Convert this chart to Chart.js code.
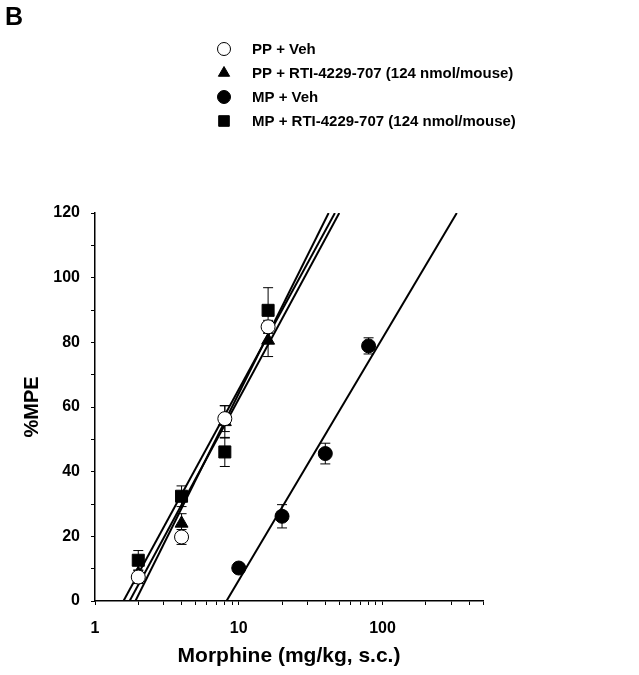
<!DOCTYPE html>
<html>
<head>
<meta charset="utf-8">
<script src="https://cdn.jsdelivr.net/npm/chart.js@4.4.1/dist/chart.umd.min.js"></script>
<style>
  body { margin: 0; background: #fff; }
  canvas { display: block; background: #fff; }
</style>
</head>
<body>
<canvas id="doseChart" width="639" height="675"></canvas>
<script>
// doses (mg/kg, s.c.)
const ppDoses = [2, 4, 8, 16];
const mpDoses = [10, 20, 40, 80];

// %MPE means and SEM
const ppVeh = [7.4, 19.8, 56.4, 84.8];
const ppVehErr = [2, 2.3, 4, 2];
const ppRti = [8.5, 24, 55.4, 80.6];
const ppRtiErr = [2.5, 3, 5, 5];
const mpVeh = [10.2, 26.2, 45.6, 78.9];
const mpVehErr = [1, 3.6, 3.2, 2.5];
const mpRti = [12.6, 32.4, 46.1, 89.9];
const mpRtiErr = [3, 3.2, 4.5, 7];

const seriesLabels = [
    'PP + Veh',
    'PP + RTI-4229-707 (124 nmol/mouse)',
    'MP + Veh',
    'MP + RTI-4229-707 (124 nmol/mouse)'
];

const xTicks = [1, 2, 3, 4, 5, 6, 7, 8, 9, 10, 20, 30, 40, 50, 60, 70, 80, 90, 100, 200, 300, 400, 500];
const xLabels = [1, 10, 100];

const FONT = "'Liberation Sans', Arial, sans-serif";

function toPoints(doses, values, errs) {
    return doses.map((d, i) => ({ x: d, y: values[i], err: errs[i] }));
}

// least squares of %MPE on log10(dose), drawn from 0 to 120 %MPE
function fitLine(doses, values) {
    const lx = doses.map(d => Math.log10(d));
    const n = lx.length;
    const mx = lx.reduce((a, b) => a + b, 0) / n;
    const my = values.reduce((a, b) => a + b, 0) / n;
    let sxy = 0, sxx = 0;
    for (let i = 0; i < n; i++) {
        sxy += (lx[i] - mx) * (values[i] - my);
        sxx += (lx[i] - mx) * (lx[i] - mx);
    }
    const slope = sxy / sxx;
    const at = y => Math.pow(10, mx + (y - my) / slope);
    return [{ x: at(0), y: 0 }, { x: at(120), y: 120 }];
}

function lineSet(doses, values) {
    return {
        type: 'line',
        data: fitLine(doses, values),
        borderColor: '#000',
        borderWidth: 2,
        pointRadius: 0,
        fill: false,
        order: 10
    };
}

const markers = [
    { style: 'circle', fill: '#fff', radius: 7 },
    { style: 'triangle', fill: '#000', radius: 7.5 },
    { style: 'circle', fill: '#000', radius: 7 },
    { style: 'rect', fill: '#000', radius: 8.5 }
];

function pointSet(idx, points) {
    const m = markers[idx];
    return {
        type: 'scatter',
        label: seriesLabels[idx],
        data: points,
        pointStyle: m.style,
        pointRadius: m.radius,
        pointBackgroundColor: m.fill,
        pointBorderColor: '#000',
        pointBorderWidth: 1,
        order: 1
    };
}

const errorBars = {
    id: 'errorBars',
    beforeDatasetsDraw(chart) {
        const ctx = chart.ctx;
        const xs = chart.scales.x, ys = chart.scales.y;
        ctx.save();
        ctx.strokeStyle = '#000';
        ctx.lineWidth = 1;
        chart.data.datasets.forEach(ds => {
            if (ds.type !== 'scatter') return;
            ds.data.forEach(p => {
                const px = xs.getPixelForValue(p.x);
                const top = ys.getPixelForValue(p.y + p.err);
                const bot = ys.getPixelForValue(p.y - p.err);
                ctx.beginPath();
                ctx.moveTo(px, top); ctx.lineTo(px, bot);
                ctx.moveTo(px - 5, top); ctx.lineTo(px + 5, top);
                ctx.moveTo(px - 5, bot); ctx.lineTo(px + 5, bot);
                ctx.stroke();
            });
        });
        ctx.restore();
    }
};

function drawMarker(ctx, m, x, y, r) {
    ctx.beginPath();
    if (m.style === 'circle') {
        ctx.arc(x, y, r, 0, Math.PI * 2);
    } else if (m.style === 'triangle') {
        ctx.moveTo(x, y - r);
        ctx.lineTo(x + r * 0.866, y + r * 0.5);
        ctx.lineTo(x - r * 0.866, y + r * 0.5);
        ctx.closePath();
    } else {
        const s = r * Math.SQRT1_2;
        ctx.rect(x - s, y - s, 2 * s, 2 * s);
    }
    ctx.fillStyle = m.fill;
    ctx.fill();
    ctx.strokeStyle = '#000';
    ctx.lineWidth = 1;
    ctx.stroke();
}

const legendAndLetter = {
    id: 'legendAndLetter',
    afterDraw(chart) {
        const ctx = chart.ctx;
        ctx.save();
        ctx.fillStyle = '#000';
        ctx.font = 'bold 25px ' + FONT;
        ctx.textBaseline = 'alphabetic';
        ctx.fillText('B', 5, 25);

        ctx.font = 'bold 15px ' + FONT;
        ctx.textBaseline = 'middle';
        const rowY = [49, 73, 97, 121];
        seriesLabels.forEach((label, i) => {
            const m = markers[i];
            drawMarker(ctx, m, 224, rowY[i], m.style === 'rect' ? 7.5 : 6.5);
            ctx.fillStyle = '#000';
            ctx.fillText(label, 252, rowY[i] + 1);
        });
        ctx.restore();
    }
};

const ctx = document.getElementById('doseChart').getContext('2d');
new Chart(ctx, {
    type: 'scatter',
    data: {
        datasets: [
            pointSet(0, toPoints(ppDoses, ppVeh, ppVehErr)),
            pointSet(1, toPoints(ppDoses, ppRti, ppRtiErr)),
            pointSet(2, toPoints(mpDoses, mpVeh, mpVehErr)),
            pointSet(3, toPoints(ppDoses, mpRti, mpRtiErr)),
            lineSet(ppDoses, ppVeh),
            lineSet(ppDoses, ppRti),
            lineSet(mpDoses, mpVeh),
            lineSet(ppDoses, mpRti)
        ]
    },
    options: {
        responsive: false,
        animation: false,
        layout: { padding: { top: 213, right: 156, left: 0, bottom: 0 } },
        plugins: {
            legend: { display: false },
            tooltip: { enabled: false }
        },
        scales: {
            x: {
                type: 'logarithmic',
                min: 1,
                max: 500,
                afterBuildTicks: scale => {
                    scale.ticks = xTicks.map(v => ({ value: v }));
                },
                afterFit: scale => { scale.height = 74; },
                grid: { drawOnChartArea: false, drawTicks: true, tickLength: 4, color: '#000' },
                border: { color: '#000', width: 1.5 },
                ticks: {
                    autoSkip: false,
                    maxRotation: 0,
                    padding: 14,
                    color: '#000',
                    font: { family: FONT, size: 16, weight: 'bold' },
                    callback: v => xLabels.includes(v) ? String(v) : ''
                },
                title: {
                    display: true,
                    text: 'Morphine (mg/kg, s.c.)',
                    color: '#000',
                    font: { family: FONT, size: 21, weight: 'bold' },
                    padding: { top: 0, bottom: 6 }
                }
            },
            y: {
                min: 0,
                max: 120,
                afterFit: scale => { scale.width = 95; },
                grid: { drawOnChartArea: false, drawTicks: true, tickLength: 4, color: '#000' },
                border: { color: '#000', width: 1.5 },
                ticks: {
                    stepSize: 10,
                    padding: 11,
                    color: '#000',
                    font: { family: FONT, size: 16, weight: 'bold' },
                    callback: v => v % 20 === 0 ? String(v) : ''
                },
                title: {
                    display: true,
                    text: '%MPE',
                    color: '#000',
                    font: { family: FONT, size: 20, weight: 'bold' },
                    padding: { top: 20, bottom: 0 }
                }
            }
        }
    },
    plugins: [errorBars, legendAndLetter]
});
</script>
</body>
</html>
